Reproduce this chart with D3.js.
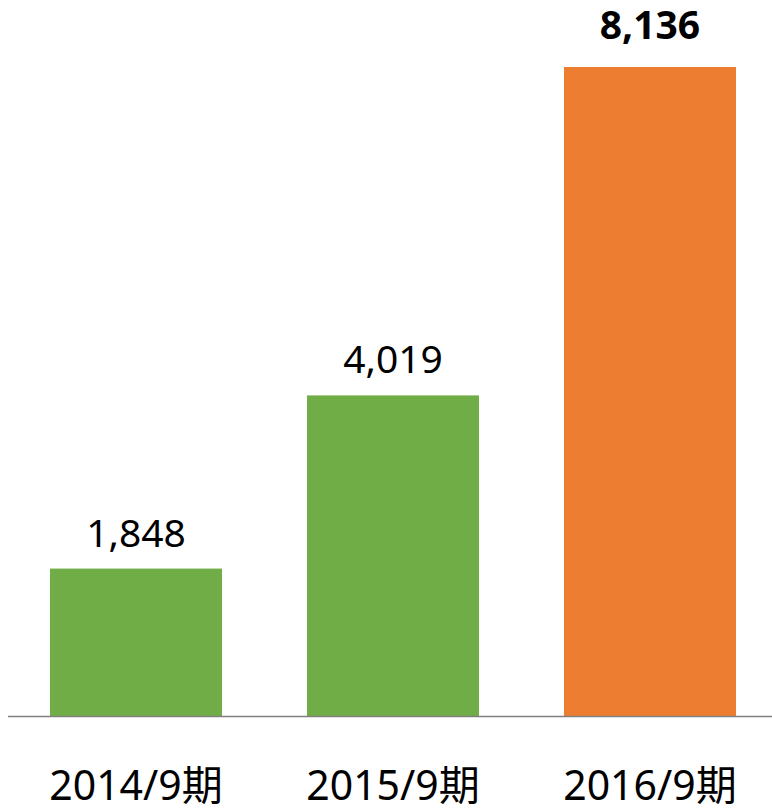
<!DOCTYPE html>
<html><head><meta charset="utf-8">
<script src="https://cdn.jsdelivr.net/npm/d3@7"></script>
<style>html,body{margin:0;padding:0;background:#fff;}svg{display:block;}</style>
</head><body>
<script>
const categories = ["2014/9期", "2015/9期", "2016/9期"];
const values = [1848, 4019, 8136];
const colors = ["#70AD47", "#70AD47", "#ED7D31"];
const boldFlags = [false, false, true];

const W = 772, H = 808;
const svg = d3.select("body").append("svg").attr("width", W).attr("height", H);
const baseY = 716;
const x = d3.scaleBand().domain(categories).range([7.5, 778.5]).paddingInner(0.3307).paddingOuter(0.1654);
const y = d3.scaleLinear().domain([0, 8136]).range([baseY, 67]);

const font = "'Noto Sans', 'Noto Sans CJK JP', sans-serif";

svg.selectAll("rect.bar").data(values).enter().append("rect")
  .attr("x", (d, i) => x(categories[i]))
  .attr("width", x.bandwidth())
  .attr("y", d => y(d))
  .attr("height", d => baseY - y(d))
  .attr("fill", (d, i) => colors[i]);

svg.append("line").attr("x1", 8).attr("x2", W).attr("y1", baseY + 0.5).attr("y2", baseY + 0.5)
  .attr("stroke", "#7f7f7f").attr("stroke-width", 1.5);

svg.selectAll("text.val").data(values).enter().append("text")
  .attr("x", (d, i) => x(categories[i]) + x.bandwidth() / 2)
  .attr("y", (d, i) => y(d) - (boldFlags[i] ? 28 : 22))
  .attr("text-anchor", "middle")
  .attr("font-family", font)
  .attr("font-size", 39)
  .attr("font-weight", (d, i) => boldFlags[i] ? "bold" : "normal")
  .attr("fill", "#000")
  .text(d => d3.format(",")(d));

svg.selectAll("text.cat").data(categories).enter().append("text")
  .attr("x", d => x(d) + x.bandwidth() / 2)
  .attr("y", 800)
  .attr("text-anchor", "middle")
  .attr("font-family", font)
  .attr("font-size", 41)
  .attr("fill", "#000")
  .text(d => d);
</script>
</body></html>
